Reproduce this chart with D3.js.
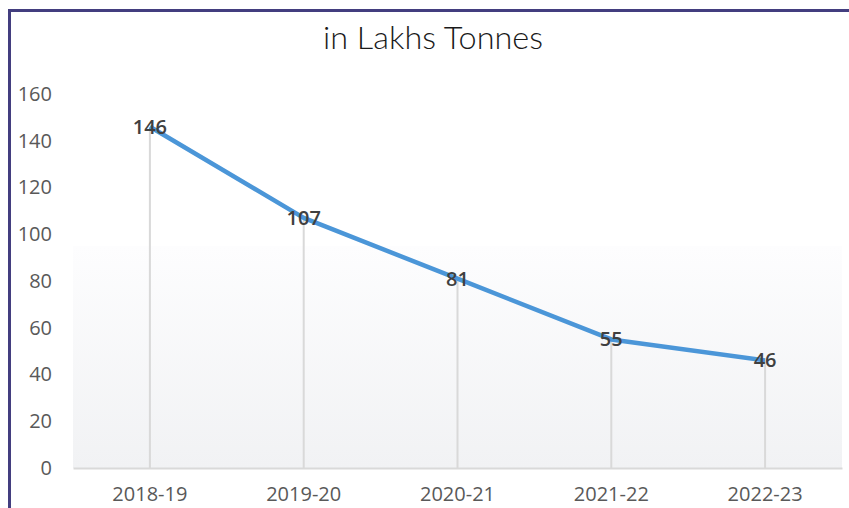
<!DOCTYPE html>
<html>
<head>
<meta charset="utf-8">
<script src="https://cdn.jsdelivr.net/npm/d3@7"></script>
<style>
  html, body { margin: 0; padding: 0; background: #fff; }
  svg { display: block; }
</style>
</head>
<body>
<div id="chart"></div>
<script>
// data
const years = ["2018-19", "2019-20", "2020-21", "2021-22", "2022-23"];
const tonnes = [146, 107, 81, 55, 46];
const yTicks = [0, 20, 40, 60, 80, 100, 120, 140, 160];
const subtitle = "in Lakhs Tonnes";

const config = {
    width: 849,
    height: 508,
    plot: {left: 73, right: 842, top: 94, bottom: 468}
};

const svg = d3.select("#chart").append("svg")
    .attr("width", config.width)
    .attr("height", config.height);

const scale = {
    x: d3.scaleBand().domain(years).range([config.plot.left, config.plot.right]),
    y: d3.scaleLinear().domain([0, 160]).range([config.plot.bottom, config.plot.top])
};
const cx = (d) => scale.x(d) + scale.x.bandwidth() / 2;

// faint background band
const defs = svg.append("defs");
const grad = defs.append("linearGradient").attr("id", "bg-grad")
    .attr("x1", 0).attr("y1", 0).attr("x2", 0).attr("y2", 1);
grad.append("stop").attr("offset", "0%").attr("stop-color", "#fdfdfe");
grad.append("stop").attr("offset", "100%").attr("stop-color", "#f1f2f4");

svg.append("rect")
    .attr("x", config.plot.left)
    .attr("y", scale.y(95))
    .attr("width", config.plot.right - config.plot.left)
    .attr("height", config.plot.bottom - scale.y(95))
    .attr("fill", "url(#bg-grad)");

// frame
svg.append("path")
    .attr("d", `M9.5,${config.height} L9.5,10.5 L${config.width},10.5`)
    .attr("fill", "none")
    .attr("stroke", "#433e7f")
    .attr("stroke-width", 3);

// subtitle
svg.append("text")
    .attr("x", 433).attr("y", 49)
    .attr("text-anchor", "middle")
    .attr("font-family", "Lato, 'Open Sans', sans-serif")
    .attr("font-weight", 300)
    .attr("font-size", 31)
    .attr("fill", "#1a1a1a")
    .attr("textLength", 220)
    .attr("lengthAdjust", "spacingAndGlyphs")
    .text(subtitle);

// y axis labels
const yAxis = svg.append("g")
    .attr("transform", `translate(${config.plot.left},0)`)
    .call(d3.axisLeft(scale.y).tickValues(yTicks).tickSize(0).tickPadding(21));
yAxis.select(".domain").remove();
yAxis.selectAll("text")
    .attr("font-family", "'Open Sans', sans-serif")
    .attr("font-size", 20)
    .attr("fill", "#595959");

// x axis
const xAxis = svg.append("g")
    .attr("transform", `translate(0,${config.plot.bottom})`)
    .call(d3.axisBottom(scale.x).tickSize(0).tickPadding(19));
xAxis.select(".domain")
    .attr("stroke", "#d9d9d9")
    .attr("stroke-width", 2);
xAxis.selectAll("text")
    .attr("font-family", "'Open Sans', sans-serif")
    .attr("font-size", 20)
    .attr("fill", "#595959");

// drop lines
svg.selectAll(".drop").data(years)
    .enter().append("line")
    .attr("class", "drop")
    .attr("x1", (d) => cx(d)).attr("x2", (d) => cx(d))
    .attr("y1", (d, i) => scale.y(tonnes[i]))
    .attr("y2", config.plot.bottom)
    .attr("stroke", "#d9d9d9")
    .attr("stroke-width", 2);

// line
const line = d3.line()
    .x((d, i) => cx(years[i]))
    .y((d) => scale.y(d));

svg.append("path")
    .datum(tonnes)
    .attr("d", line)
    .attr("fill", "none")
    .attr("stroke", "#4b96d8")
    .attr("stroke-width", 4.5)
    .attr("stroke-linejoin", "round");

// value labels
svg.selectAll(".val").data(tonnes)
    .enter().append("text")
    .attr("class", "val")
    .attr("x", (d, i) => cx(years[i]))
    .attr("y", (d) => scale.y(d))
    .attr("dy", "0.35em")
    .attr("text-anchor", "middle")
    .attr("font-family", "'Open Sans', sans-serif")
    .attr("font-weight", 600)
    .attr("font-size", 20)
    .attr("fill", "#404040")
    .text((d) => d);
</script>
</body>
</html>
